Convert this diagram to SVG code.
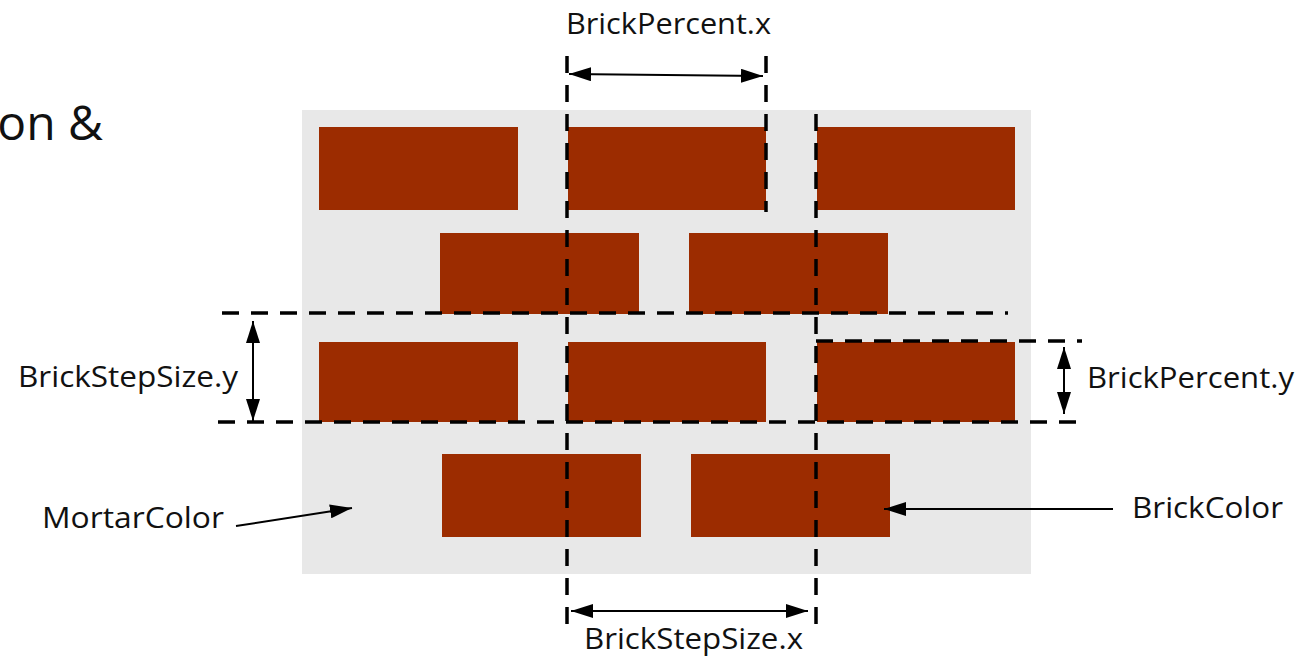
<svg xmlns="http://www.w3.org/2000/svg" width="1302" height="661" viewBox="0 0 1302 661">
  <style>
    .brick { fill: #9c2c00; }
    .dash { stroke: #000; stroke-width: 3.5; stroke-dasharray: 17 12; fill: none; }
    .dim { stroke: #000; stroke-width: 2; fill: none; }
    .lbl { font-family: "Open Sans", "DejaVu Sans", sans-serif; font-size: 30px; fill: #111; }
  </style>
  <defs>
    <marker id="ah" viewBox="0 0 22 14" refX="22" refY="7" markerWidth="22" markerHeight="14" markerUnits="userSpaceOnUse" orient="auto-start-reverse">
      <path d="M0,0 L22,7 L0,14 Z" fill="#000"/>
    </marker>
  </defs>

  <rect width="1302" height="661" fill="#fff"/>

  <!-- clipped heading fragment -->
  <text x="103" y="140" text-anchor="end" font-family="'Open Sans', 'DejaVu Sans', sans-serif" font-size="48" fill="#111">on &amp;</text>

  <!-- wall -->
  <g id="wall">
    <rect x="302" y="110" width="729" height="464" fill="#e8e8e8"/>
    <rect class="brick" x="319" y="127" width="199" height="83"/>
    <rect class="brick" x="568" y="127" width="198" height="83"/>
    <rect class="brick" x="817" y="127" width="198" height="83"/>
    <rect class="brick" x="440" y="233" width="199" height="81"/>
    <rect class="brick" x="689" y="233" width="199" height="81"/>
    <rect class="brick" x="319" y="342" width="199" height="80"/>
    <rect class="brick" x="568" y="342" width="198" height="80"/>
    <rect class="brick" x="817" y="342" width="198" height="80"/>
    <rect class="brick" x="442" y="454" width="199" height="83"/>
    <rect class="brick" x="691" y="454" width="199" height="83"/>
  </g>

  <!-- guide lines -->
  <g id="guides">
    <line class="dash" x1="567" y1="56" x2="567" y2="624"/>
    <line class="dash" x1="766" y1="56" x2="766" y2="212"/>
    <line class="dash" x1="816" y1="114" x2="816" y2="624"/>
    <line class="dash" x1="222" y1="313" x2="1008" y2="313"/>
    <line class="dash" x1="218" y1="422" x2="1080" y2="422"/>
    <line class="dash" x1="816" y1="341" x2="1082" y2="341"/>
  </g>

  <!-- dimension and pointer arrows -->
  <g id="connectors">
    <line class="dim" x1="569" y1="74" x2="763" y2="76" marker-start="url(#ah)" marker-end="url(#ah)"/>
    <line class="dim" x1="253" y1="321" x2="253" y2="421" marker-start="url(#ah)" marker-end="url(#ah)"/>
    <line class="dim" x1="1064" y1="347" x2="1064" y2="414" marker-start="url(#ah)" marker-end="url(#ah)"/>
    <line class="dim" x1="571" y1="611" x2="808" y2="611" marker-start="url(#ah)" marker-end="url(#ah)"/>
    <line class="dim" x1="236" y1="526" x2="352" y2="508" marker-end="url(#ah)"/>
    <line class="dim" x1="1113" y1="509" x2="884" y2="509" marker-end="url(#ah)"/>
  </g>

  <!-- labels -->
  <g id="labels">
    <text class="lbl" x="566" y="34" textLength="205" lengthAdjust="spacingAndGlyphs">BrickPercent.x</text>
    <text class="lbl" x="18" y="387" textLength="220" lengthAdjust="spacingAndGlyphs">BrickStepSize.y</text>
    <text class="lbl" x="1087" y="388" textLength="207" lengthAdjust="spacingAndGlyphs">BrickPercent.y</text>
    <text class="lbl" x="42" y="528" textLength="182" lengthAdjust="spacingAndGlyphs">MortarColor</text>
    <text class="lbl" x="1132" y="518" textLength="151" lengthAdjust="spacingAndGlyphs">BrickColor</text>
    <text class="lbl" x="584" y="649" textLength="219" lengthAdjust="spacingAndGlyphs">BrickStepSize.x</text>
  </g>
</svg>
